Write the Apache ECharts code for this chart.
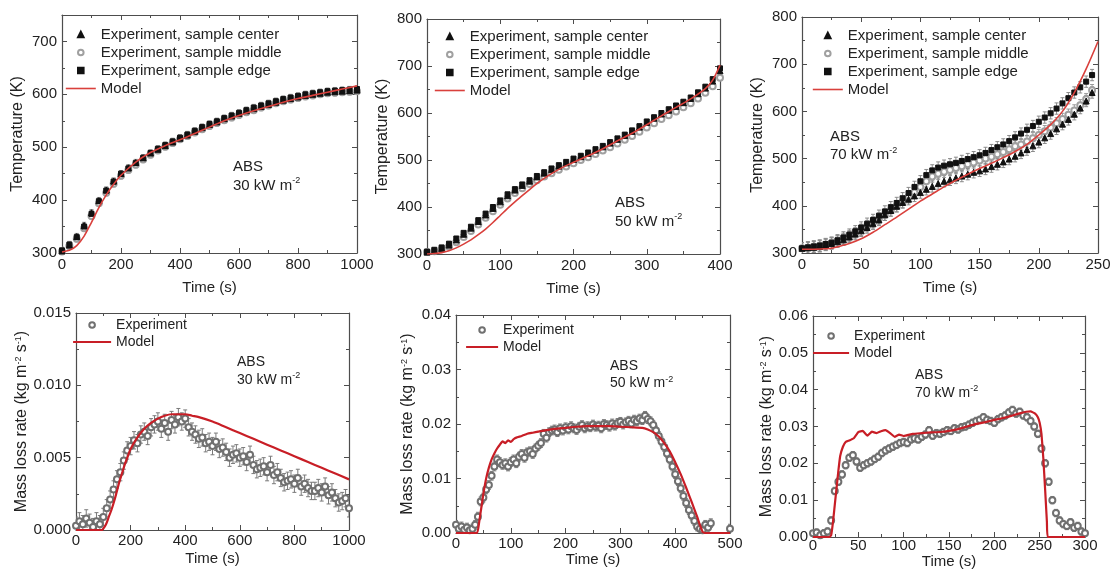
<!DOCTYPE html>
<html><head><meta charset="utf-8">
<script src="https://cdn.jsdelivr.net/npm/echarts@6/dist/echarts.min.js"></script>
<style>html,body{margin:0;padding:0;background:#fff}#c{width:1110px;height:571px}</style>
</head><body><div id="c"></div>
<script>
// ---------------- DATA ----------------
// Temperature, 30 kW m-2
const tempTimes30 = [0,25,50,75,100,125,150,175,200,225,250,275,300,325,350,375,400,425,450,475,500,525,550,575,600,625,650,675,700,725,750,775,800,825,850,875,900,925,950,975,1000];
const center30 = [304,315,331,352,376,399,419,436,450,461,471,480,489,496,503,510,517,523,530,537,543,548,554,559,564,569,573,577,581,585,589,592,595,598,600,602,604,605,606,607,608];
const middle30 = [303,313,327,347,370,394,414,431,446,457,467,477,486,494,501,508,515,521,528,534,540,546,551,556,561,566,570,575,579,583,587,590,593,596,598,600,602,603,604,605,606];
const edge30 = [305,316,330,350,374,398,418,435,450,460,470,480,489,497,504,511,518,524,531,538,544,549,555,560,565,570,575,579,583,587,591,594,597,600,602,604,606,607,608,609,610];
const modelTimes30 = [0,25,50,75,100,125,150,175,200,250,300,350,400,450,500,550,600,650,700,750,800,850,900,950,1000];
const model30 = [302,305,314,332,358,386,410,430,447,472,490,503,514,526,538,550,560,569,577,585,592,598,604,610,616];

// Temperature, 50 kW m-2
const tempTimes50 = [0,10,20,30,40,50,60,70,80,90,100,110,120,130,140,150,160,170,180,190,200,210,220,230,240,250,260,270,280,290,300,310,320,330,340,350,360,370,380,390,400];
const center50 = [304,307,312,319,330,342,355,369,383,397,411,424,436,446,455,464,472,480,487,494,501,507,514,521,528,536,544,552,561,570,580,589,598,606,614,622,631,641,653,668,690];
const middle50 = [304,306,310,316,325,336,349,363,377,391,405,418,430,440,449,457,465,472,479,486,493,500,506,513,520,527,535,543,551,560,569,578,587,595,603,612,621,631,643,657,675];
const edge50 = [305,309,314,322,333,345,358,372,386,400,414,427,438,448,457,466,474,482,489,496,503,509,516,523,530,538,546,554,563,572,582,591,600,608,616,624,633,644,656,672,695];
const modelTimes50 = [0,10,20,30,40,50,60,70,80,90,100,110,120,130,140,150,160,170,180,190,200,220,240,260,280,300,320,340,360,380,390,400];
const model50 = [300,301,303,307,313,321,330,341,353,367,382,397,411,424,437,450,461,471,480,488,495,509,524,541,557,575,594,612,630,652,670,702];

// Temperature, 70 kW m-2
const tempTimes70 = [0,5,10,15,20,25,30,35,40,45,50,55,60,65,70,75,80,85,90,95,100,105,110,115,120,125,130,135,140,145,150,155,160,165,170,175,180,185,190,195,200,205,210,215,220,225,230,235,240,245];
const center70 = [310,311,312,314,317,320,324,328,334,340,347,354,362,370,381,390,399,407,414,421,428,435,441,447,452,455,459,463,467,471,474,478,483,488,493,499,505,512,519,527,535,544,553,563,573,583,594,607,622,640];
const middle70 = [310,311,313,315,318,321,325,330,336,342,349,357,365,373,381,390,399,408,418,428,440,452,462,468,472,476,480,484,488,492,496,500,504,509,514,520,526,530,536,543,550,558,566,575,584,593,602,613,626,645];
const edge70 = [310,312,314,316,319,322,327,333,339,346,354,362,370,379,388,397,406,416,427,440,452,465,475,481,485,488,491,495,499,503,507,512,518,524,530,537,545,553,561,569,578,587,596,606,617,628,640,651,663,677];
const modelTimes70 = [0,10,20,25,30,40,50,60,70,80,90,100,110,120,130,140,150,160,170,180,190,200,210,220,230,240,250];
const model70 = [308,308,309,310,313,320,330,344,360,376,393,410,425,440,454,467,479,490,502,515,530,550,572,600,640,690,748];

// Mass loss rate, 30 kW m-2
const mlrTimes30 = [0,12.5,25,37.5,50,62.5,75,87.5,100,112.5,125,137.5,150,162.5,175,187.5,200,212.5,225,237.5,250,262.5,275,287.5,300,312.5,325,337.5,350,362.5,375,387.5,400,412.5,425,437.5,450,462.5,475,487.5,500,512.5,525,537.5,550,562.5,575,587.5,600,612.5,625,637.5,650,662.5,675,687.5,700,712.5,725,737.5,750,762.5,775,787.5,800,812.5,825,837.5,850,862.5,875,887.5,900,912.5,925,937.5,950,962.5,975,987.5,1000];
const mlrExp30 = [0.0003,0.0006,0.0004,0.0008,0.0005,0.0002,0.0006,0.0004,
  0.0009,0.0015,0.0021,0.0028,0.0035,0.0040,0.0048,0.0055,
  0.0058,0.0062,0.0060,0.0066,0.0068,0.0065,0.0071,0.0073,
  0.0075,0.0070,0.0074,0.0068,0.0076,0.0073,0.0078,0.0075,
  0.0077,0.0071,0.0068,0.0066,0.0063,0.0064,0.0060,0.0061,
  0.0058,0.0061,0.0056,0.0057,0.0054,0.0050,0.0052,0.0053,
  0.0050,0.0051,0.0047,0.0052,0.0045,0.0042,0.0043,0.0044,
  0.0040,0.0045,0.0038,0.0040,0.0036,0.0033,0.0034,0.0035,
  0.0032,0.0036,0.0030,0.0032,0.0029,0.0027,0.0027,0.0029,
  0.0026,0.0030,0.0024,0.0026,0.0022,0.0019,0.0020,0.0022,
  0.0015];
const modelMlrTimes30 = [0,50,95,100,110,120,130,140,150,160,170,180,190,200,225,250,275,300,325,350,375,400,425,450,500,550,600,650,700,750,800,850,900,950,1000];
const modelMlr30 = [0,0,0,0.0001,0.0004,0.0009,0.0014,0.0020,0.0027,0.0034,0.0040,0.0046,0.0051,0.0056,0.0064,0.0070,0.0074,0.0077,0.0079,0.0080,0.0080,0.0080,0.0079,0.0078,0.0075,0.0071,0.0067,0.0063,0.0059,0.0055,0.0051,0.0047,0.0043,0.0039,0.0035];

// Mass loss rate, 50 kW m-2
const mlrTimes50 = [0,5,10,15,20,25,30,35,40,45,50,55,60,65,70,75,80,85,90,95,100,105,110,115,120,125,130,135,140,145,150,155,160,165,170,175,180,185,190,195,200,205,210,215,220,225,230,235,240,245,250,255,260,265,270,275,280,285,290,295,300,305,310,315,320,325,330,335,340,345,350,355,360,365,370,375,380,385,390,395,400,405,410,415,420,425,430,435,440,445,450,455,460,465,500];
const mlrExp50 = [0.0015,0.0008,0.0012,0.0006,0.0010,0.0005,0.0008,0.0015,0.0030,0.0058,
  0.0065,0.0080,0.0088,0.0105,0.0122,0.0135,0.0130,0.0125,0.0128,0.0122,
  0.0130,0.0135,0.0128,0.0140,0.0145,0.0138,0.0148,0.0150,0.0145,0.0155,
  0.0160,0.0165,0.0182,0.0175,0.0185,0.0188,0.0190,0.0185,0.0192,0.0188,
  0.0194,0.0190,0.0196,0.0192,0.0189,0.0195,0.0198,0.0192,0.0196,0.0194,
  0.0199,0.0195,0.0197,0.0192,0.0200,0.0198,0.0195,0.0201,0.0197,0.0202,
  0.0204,0.0199,0.0203,0.0206,0.0201,0.0208,0.0205,0.0210,0.0207,0.0215,
  0.0209,0.0205,0.0198,0.0188,0.0178,0.0168,0.0158,0.0146,0.0135,0.0122,
  0.0108,0.0095,0.0082,0.0068,0.0055,0.0042,0.0032,0.0022,0.0012,0.0008,
  0.0005,0.0015,0.0010,0.0018,0.0008];
const modelMlrTimes50 = [0,38,42,46,50,55,60,65,70,75,80,85,90,95,100,105,110,120,130,140,150,160,180,200,220,240,260,280,300,320,340,350,360,370,380,390,400,410,420,430,440,445,450,455,500];
const modelMlr50 = [0,0,0.0018,0.0045,0.0072,0.0100,0.0120,0.0135,0.0146,0.0155,0.0162,0.0168,0.0165,0.0170,0.0167,0.0172,0.0175,0.0178,0.0182,0.0184,0.0186,0.0188,0.0191,0.0193,0.0195,0.0196,0.0196,0.0196,0.0195,0.0194,0.0193,0.0190,0.0185,0.0177,0.0165,0.0150,0.0130,0.0108,0.0083,0.0057,0.0030,0.0015,0.0002,0,0];

// Mass loss rate, 70 kW m-2
const mlrTimes70 = [0,4,8,12,16,20,24,28,32,36,40,44,48,52,56,60,64,68,72,76,80,84,88,92,96,100,104,108,112,116,120,124,128,132,136,140,144,148,152,156,160,164,168,172,176,180,184,188,192,196,200,204,208,212,216,220,224,228,232,236,240,244,248,252,256,260,264,268,272,276,280,284,288,292,296,300];
const mlrExp70 = [0.0010,0.0012,0.0005,0.0010,0.0015,0.0045,0.0125,0.0150,0.0170,0.0195,
  0.0215,0.0222,0.0205,0.0188,0.0195,0.0200,0.0205,0.0212,0.0218,0.0228,
  0.0235,0.0240,0.0245,0.0250,0.0255,0.0258,0.0255,0.0265,0.0268,0.0265,
  0.0272,0.0278,0.0290,0.0275,0.0282,0.0280,0.0285,0.0290,0.0288,0.0295,
  0.0292,0.0298,0.0300,0.0305,0.0310,0.0315,0.0318,0.0325,0.0318,0.0315,
  0.0310,0.0320,0.0325,0.0330,0.0338,0.0345,0.0335,0.0340,0.0330,0.0325,
  0.0315,0.0300,0.0280,0.0240,0.0200,0.0150,0.0100,0.0065,0.0045,0.0035,
  0.0030,0.0040,0.0025,0.0030,0.0015,0.0010];
const modelMlrTimes70 = [0,18,20,22,25,28,30,33,36,40,45,50,55,60,65,70,75,80,85,90,95,100,110,120,130,140,150,160,170,180,190,200,210,220,230,235,240,245,248,250,252,254,256,258,259,300];
const modelMlr70 = [0,0,0.0005,0.004,0.011,0.018,0.022,0.0245,0.0258,0.0262,0.0268,0.0285,0.0288,0.0275,0.0286,0.0282,0.0287,0.0290,0.0282,0.0272,0.0278,0.0274,0.0280,0.0282,0.0284,0.0285,0.0288,0.0293,0.0300,0.0307,0.0312,0.0318,0.0323,0.0330,0.0337,0.0340,0.0341,0.0335,0.0325,0.0310,0.0280,0.0215,0.0130,0.0040,0,0];

// Error bar half-lengths per panel
const tempErr = [6, 4, 12];
const mlrErr = [0.0006, 0.0008, 0.0010];

// Labels
const legendTemp = ['Experiment, sample center','Experiment, sample middle','Experiment, sample edge','Model'];
const legendMlr = ['Experiment','Model'];
const annotations = ['ABS\n30 kW m{sup|-2}','ABS\n50 kW m{sup|-2}','ABS\n70 kW m{sup|-2}','ABS\n30 kW m{sup|-2}','ABS\n50 kW m{sup|-2}','ABS\n70 kW m{sup|-2}'];

// ---------------- LAYOUT / STYLE ----------------
const TXT = '#222', AXC = '#4d4d4d';
const FONT = '"Liberation Sans", Arial, Helvetica, sans-serif';
const RED_T = '#d9403c', RED_B = '#c81e26';
const SUP = {fontSize: 9, lineHeight: 9, verticalAlign: 'top', fontFamily: FONT, color: TXT};

const panels = [
  {grid:[62,15,295,238], x:[0,1000,200], y:[300,750,100,0], yName:'Temperature (K)', xMargin:4, xGap:27, yGap:36,
   legend:{left:65, top:27, w:30, fs:15, h:7}, ann:{left:233, top:157, fs:15, lh:19}},
  {grid:[427,19,293,235], x:[0,400,100], y:[300,800,100,0], yName:'Temperature (K)', xMargin:4, xGap:27, yGap:36,
   legend:{left:434, top:29, w:30, fs:15, h:7}, ann:{left:615, top:193, fs:15, lh:19}},
  {grid:[802,17,296,236], x:[0,250,50], y:[300,800,100,0], yName:'Temperature (K)', xMargin:4, xGap:27, yGap:36,
   legend:{left:812, top:28, w:30, fs:15, h:7}, ann:{left:830, top:128, fs:15, lh:18}},
  {grid:[76,313,273,217], x:[0,1000,200], y:[0,0.015,0.005,3], yName:'Mass loss rate (kg m{sup|-2} s{sup|-1})', xMargin:3, xGap:21, yGap:43,
   legend:{left:72, top:318, w:38, fs:14, h:7}, ann:{left:237, top:353, fs:14, lh:18}},
  {grid:[456,315,274,218], x:[0,500,100], y:[0,0.04,0.01,2], yName:'Mass loss rate (kg m{sup|-2} s{sup|-1})', xMargin:3, xGap:19, yGap:40,
   legend:{left:465, top:323, w:32, fs:14, h:7}, ann:{left:610, top:358, fs:14, lh:17}},
  {grid:[813,316,272,221], x:[0,300,50], y:[0,0.06,0.01,2], yName:'Mass loss rate (kg m{sup|-2} s{sup|-1})', xMargin:1, xGap:16, yGap:33,
   legend:{left:812, top:329, w:36, fs:14, h:7}, ann:{left:915, top:366, fs:14, lh:18}}
];

function pairs(ts, vs) { return ts.map((t, i) => [t, vs[i]]); }
function errTriples(ts, vs, e) { return ts.map((t, i) => [t, vs[i], e]); }

function errRender(color) {
  return function (params, api) {
    const x = api.value(0), y = api.value(1), e = api.value(2);
    const lo = api.coord([x, y - e]), hi = api.coord([x, y + e]);
    const c = 2;
    const st = {stroke: color, lineWidth: 1, fill: null};
    return {type: 'group', children: [
      {type: 'line', shape: {x1: lo[0], y1: lo[1], x2: hi[0], y2: hi[1]}, style: st},
      {type: 'line', shape: {x1: lo[0]-c, y1: lo[1], x2: lo[0]+c, y2: lo[1]}, style: st},
      {type: 'line', shape: {x1: hi[0]-c, y1: hi[1], x2: hi[0]+c, y2: hi[1]}, style: st}
    ]};
  };
}

const grids = [], xAxes = [], yAxes = [], series = [], legends = [], graphics = [];

panels.forEach((p, gi) => {
  grids.push({left: p.grid[0], top: p.grid[1], width: p.grid[2], height: p.grid[3], containLabel: false, outerBoundsMode: 'none'});
  const lineSt = {show: true, onZero: false, lineStyle: {color: AXC, width: 1.2}};
  const tickSt = {show: true, inside: true, length: 5, lineStyle: {color: AXC, width: 1}};
  const minorSt = {show: true, splitNumber: 2, length: 3, lineStyle: {color: AXC, width: 1}};
  const yint = p.y[2], ydec = p.y[3];
  const yFmt = v => {
    const k = Math.round(v / yint);
    if (Math.abs(v - k * yint) > yint * 1e-6) return '';
    return v.toFixed(ydec);
  };
  xAxes.push({type: 'value', gridIndex: gi, position: 'bottom', min: p.x[0], max: p.x[1], interval: p.x[2],
    axisLine: lineSt, axisTick: tickSt, minorTick: minorSt, splitLine: {show: false},
    axisLabel: {color: TXT, fontSize: 15, fontFamily: FONT, margin: p.xMargin, formatter: v => String(Math.round(v))},
    name: 'Time (s)', nameLocation: 'middle', nameGap: p.xGap,
    nameTextStyle: {color: TXT, fontSize: 15, fontFamily: FONT}});
  xAxes.push({type: 'value', gridIndex: gi, position: 'top', min: p.x[0], max: p.x[1], interval: p.x[2],
    axisLine: lineSt, axisTick: tickSt, minorTick: minorSt, splitLine: {show: false}, axisLabel: {show: false}});
  yAxes.push({type: 'value', gridIndex: gi, position: 'left', min: p.y[0], max: p.y[1], interval: yint,
    axisLine: lineSt, axisTick: tickSt, minorTick: minorSt, splitLine: {show: false},
    axisLabel: {color: TXT, fontSize: 15, fontFamily: FONT, margin: 5, formatter: yFmt},
    name: p.yName, nameLocation: 'middle', nameGap: p.yGap,
    nameTextStyle: {color: TXT, fontSize: 16, fontFamily: FONT, rich: {sup: SUP}}});
  yAxes.push({type: 'value', gridIndex: gi, position: 'right', min: p.y[0], max: p.y[1], interval: yint,
    axisLine: lineSt, axisTick: tickSt, minorTick: minorSt, splitLine: {show: false}, axisLabel: {show: false}});

  const ax = {xAxisIndex: 2 * gi, yAxisIndex: 2 * gi};
  const isTemp = gi < 3;
  const legendNames = isTemp ? legendTemp : legendMlr;
  const L = p.legend;
  legends.push({orient: 'vertical', left: L.left, top: L.top, itemWidth: L.w, itemHeight: L.h, itemGap: 3,
    padding: 0, selectedMode: false,
    textStyle: {color: TXT, fontSize: L.fs, fontFamily: FONT},
    data: legendNames.map(n => n === 'Model'
      ? {name: n, lineStyle: {color: isTemp ? RED_T : RED_B, width: isTemp ? 1.6 : 2.2}, itemStyle: {opacity: 0}}
      : {name: n})});

  graphics.push({type: 'text', left: p.ann.left, top: p.ann.top, silent: true,
    style: {text: annotations[gi], fill: TXT, fontSize: p.ann.fs, fontFamily: FONT, lineHeight: p.ann.lh,
      rich: {sup: {fontSize: 9, lineHeight: 9, verticalAlign: 'top', fontFamily: FONT, fill: TXT}}}});

  const pts = (name, ts, vs, symbol, size, color, z, bw) => Object.assign({
    type: 'line', name, data: pairs(ts, vs), symbol, symbolSize: size, showSymbol: true, showAllSymbol: true,
    lineStyle: {opacity: 0, width: 0}, itemStyle: {color: color, borderColor: color, borderWidth: bw},
    emphasis: {disabled: true}, silent: true, z, animation: false}, ax);
  const errS = (ts, vs, e, color) => Object.assign({
    type: 'custom', data: errTriples(ts, vs, e), renderItem: errRender(color), clip: true, silent: true, z: 1,
    encode: {x: 0, y: 1}}, ax);
  const model = (ts, vs, color, w, smooth) => Object.assign({
    type: 'line', name: 'Model', data: pairs(ts, vs), symbol: 'none', smooth,
    lineStyle: {color, width: w}, itemStyle: {color}, emphasis: {disabled: true}, silent: true, z: 6}, ax);

  if (isTemp) {
    const sets = [[tempTimes30, center30, middle30, edge30, modelTimes30, model30],
                  [tempTimes50, center50, middle50, edge50, modelTimes50, model50],
                  [tempTimes70, center70, middle70, edge70, modelTimes70, model70]][gi];
    const e = tempErr[gi];
    series.push(errS(sets[0], sets[2], e, '#9a9a9a'));
    series.push(errS(sets[0], sets[1], e, '#8a8a8a'));
    series.push(errS(sets[0], sets[3], e, '#8a8a8a'));
    series.push(pts(legendTemp[1], sets[0], sets[2], 'emptyCircle', 6, '#a0a0a0', 2, 1));
    series.push(pts(legendTemp[0], sets[0], sets[1], 'triangle', 6, '#111', 3, 1));
    series.push(pts(legendTemp[2], sets[0], sets[3], 'rect', 5, '#111', 4, 1));
    series.push(model(sets[4], sets[5], RED_T, 1.6, 0.3));
  } else {
    const k = gi - 3;
    const sets = [[mlrTimes30, mlrExp30, modelMlrTimes30, modelMlr30, 0.3],
                  [mlrTimes50, mlrExp50, modelMlrTimes50, modelMlr50, 0.15],
                  [mlrTimes70, mlrExp70, modelMlrTimes70, modelMlr70, 0.1]][k];
    series.push(errS(sets[0], sets[1], mlrErr[k], '#7a7a7a'));
    series.push(pts('Experiment', sets[0], sets[1], 'emptyCircle', 6, '#707070', 2, 0.9));
    series.push(model(sets[2], sets[3], RED_B, 2.2, sets[4]));
  }
});

const chart = echarts.init(document.getElementById('c'), null, {renderer: 'canvas'});
chart.setOption({
  animation: false,
  backgroundColor: '#fff',
  textStyle: {fontFamily: FONT},
  grid: grids, xAxis: xAxes, yAxis: yAxes, legend: legends, series, graphic: graphics
});
</script>
</body></html>
